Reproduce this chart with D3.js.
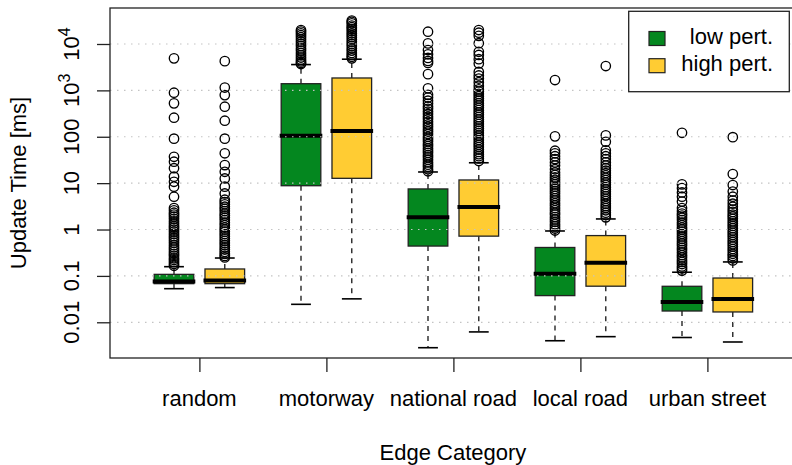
<!DOCTYPE html>
<html>
<head>
<meta charset="utf-8">
<script src="https://cdn.jsdelivr.net/npm/d3@7"></script>
<style>
  body { margin: 0; background: #fff; }
  text { font-family: "Liberation Sans", Arial, Helvetica, sans-serif; fill: #000; }
</style>
</head>
<body>
<script>
// categories and series
const categories = ['random', 'motorway', 'national road', 'local road', 'urban street'];
const seriesNames = ['low pert.', 'high pert.'];

// box stats per category: [lower whisker, q1, median, q3, upper whisker] (ms)
const lowStats = [
  [0.053, 0.068, 0.076, 0.108, 0.158],
  [0.0244, 8.8, 105, 1393, 3600],
  [0.00283, 0.44, 1.83, 7.5, 17.4],
  [0.0040, 0.0376, 0.111, 0.41, 0.93],
  [0.0047, 0.0175, 0.0274, 0.0597, 0.12]
];
const highStats = [
  [0.056, 0.068, 0.080, 0.141, 0.243],
  [0.032, 12.7, 133, 1850, 4700],
  [0.0062, 0.72, 3.06, 11.7, 27.5],
  [0.0049, 0.060, 0.193, 0.74, 1.69],
  [0.00376, 0.0167, 0.0318, 0.090, 0.20]
];

// outliers (ms)
const lowOutliers = [
  [4900, 890, 525, 257, 91, 37, 29, 21, 13.8, 10.7, 8.4, 5.1, 2.9, 2.6, 2.3, 2.1, 1.9, 1.7, 1.5, 1.35, 1.2, 1.1, 1.0,
    0.9, 0.8, 0.72, 0.65, 0.58, 0.52, 0.46, 0.41, 0.37, 0.33, 0.3, 0.27, 0.24, 0.22, 0.2, 0.18, 0.165],
  [20000, 18500, 17000, 15500, 14000, 12500, 11200, 10000, 9000, 8000, 7200, 6400, 5700, 5100, 4600, 4200, 3900, 3700],
  [18400, 10300, 7400, 6000, 5000, 4300, 3900, 2240, 1110, 800, 700, 600, 520, 450, 400, 350, 310, 270, 240, 210,
    185, 165, 145, 130, 115, 100, 90, 80, 70, 63, 56, 50, 45, 40, 36, 32, 28, 25, 22.5, 20, 18],
  [1670, 102, 50, 44, 38, 33, 28, 24, 20, 17, 15, 13.3, 11.8, 10.5, 9.4, 8.4, 7.5, 6.7, 6, 5.3, 4.7, 4.2, 3.7, 3.3,
    2.9, 2.6, 2.3, 2.1, 1.85, 1.65, 1.47, 1.3, 1.17, 1.05, 0.95],
  [122, 9.4, 7.8, 6.3, 5.1, 4.0, 2.9, 2.5, 2.2, 2.0, 1.8, 1.6, 1.4, 1.25, 1.1, 1.0, 0.9, 0.8, 0.71, 0.63, 0.56, 0.5,
    0.45, 0.4, 0.36, 0.32, 0.28, 0.25, 0.22, 0.2, 0.18, 0.16, 0.145, 0.13]
];
const highOutliers = [
  [4270, 1150, 790, 445, 222, 91, 44, 24.5, 17.6, 12.6, 8.4, 6.0, 4.4, 3.9, 3.5, 3.1, 2.8, 2.5, 2.2, 2.0, 1.8, 1.6,
    1.4, 1.25, 1.1, 1.0, 0.9, 0.8, 0.72, 0.64, 0.57, 0.51, 0.46, 0.41, 0.37, 0.33, 0.3, 0.27, 0.25],
  [32000, 30000, 28000, 25000, 23000, 21000, 19000, 17000, 15500, 14000, 12500, 11200, 10000, 9000, 8000, 7200,
    6400, 5800, 5300, 4900],
  [20000, 17500, 15000, 10400, 6800, 5800, 4700, 3800, 2500, 2100, 1800, 1500, 1250, 1050, 940, 840, 750, 670, 600,
    530, 470, 420, 375, 335, 300, 265, 235, 210, 188, 168, 150, 134, 120, 106, 95, 85, 75, 67, 60, 53, 47, 42, 38,
    34, 30],
  [3350, 107, 78, 51, 44, 38, 33, 28, 24, 21, 18.5, 16.5, 14.7, 13, 11.6, 10.3, 9.2, 8.2, 7.3, 6.5, 5.8, 5.2, 4.6,
    4.1, 3.6, 3.2, 2.9, 2.6, 2.3, 2.05, 1.83],
  [98, 15.7, 9.1, 6.6, 5.1, 4.2, 3.6, 3.1, 2.7, 2.4, 2.1, 1.9, 1.7, 1.5, 1.35, 1.2, 1.07, 0.95, 0.85, 0.76, 0.68,
    0.6, 0.54, 0.48, 0.43, 0.38, 0.34, 0.3, 0.27, 0.24, 0.215]
];

const yTicks = [0.01, 0.1, 1, 10, 100, 1000, 10000];
const yTickLabels = [['0.01'], ['0.1'], ['1'], ['10'], ['100'], ['10', '3'], ['10', '4']];

const colors = ['#04871f', '#ffcc33'];

const width = 792;
const height = 465;
const plot = { left: 110, top: 8, right: 799, bottom: 358 };

const svg = d3.select('body').append('svg').attr('width', width).attr('height', height);

const y = d3.scaleLog()
  .domain([Math.pow(10, -2.77), Math.pow(10, 4.776)])
  .range([plot.bottom, plot.top]);

// box slots: 1,2 | 3.5,4.5 | 6,7 ...
const x = d3.scaleLinear().domain([1, 12]).range([174, 732.8]);
const boxW = x(1.78) - x(1);
const slot = (i, s) => i * 2.5 + 1 + s;

const boxes = [];
categories.forEach((c, i) => {
  [lowStats, highStats].forEach((st, s) => {
    boxes.push({
      cx: x(slot(i, s)), stats: st[i], out: (s === 0 ? lowOutliers : highOutliers)[i], color: colors[s]
    });
  });
});

const g = svg.append('g');

// whiskers, boxes, medians, outliers
boxes.forEach((b) => {
  const [lo, q1, med, q3, hi] = b.stats;
  g.append('line').attr('x1', b.cx).attr('x2', b.cx).attr('y1', y(q1)).attr('y2', y(lo))
    .attr('stroke', '#000').attr('stroke-width', 1.2).attr('stroke-dasharray', '5,5');
  g.append('line').attr('x1', b.cx).attr('x2', b.cx).attr('y1', y(q3)).attr('y2', y(hi))
    .attr('stroke', '#000').attr('stroke-width', 1.2).attr('stroke-dasharray', '5,5');
  [lo, hi].forEach((v) => {
    g.append('line').attr('x1', b.cx - boxW / 4).attr('x2', b.cx + boxW / 4)
      .attr('y1', y(v)).attr('y2', y(v)).attr('stroke', '#000').attr('stroke-width', 1.6);
  });
  g.append('rect')
    .attr('x', b.cx - boxW / 2).attr('y', y(q3))
    .attr('width', boxW).attr('height', y(q1) - y(q3))
    .attr('fill', b.color).attr('stroke', '#222').attr('stroke-width', 1.3);
  g.append('line').attr('x1', b.cx - boxW / 2 - 1.5).attr('x2', b.cx + boxW / 2 + 1.5)
    .attr('y1', y(med)).attr('y2', y(med)).attr('stroke', '#000').attr('stroke-width', 4);
  g.selectAll(null).data(b.out).enter().append('circle')
    .attr('cx', b.cx).attr('cy', (d) => y(d)).attr('r', 4.7)
    .attr('fill', 'none').attr('stroke', '#000').attr('stroke-width', 1.35);
});

// dotted grid on top
svg.append('g').selectAll('line').data(yTicks).enter().append('line')
  .attr('x1', plot.left).attr('x2', plot.right)
  .attr('y1', (d) => y(d)).attr('y2', (d) => y(d))
  .attr('stroke', '#c4c4c4').attr('stroke-width', 1.2).attr('stroke-dasharray', '1.5,5.5');

// frame
svg.append('rect')
  .attr('x', plot.left).attr('y', plot.top)
  .attr('width', plot.right - plot.left).attr('height', plot.bottom - plot.top)
  .attr('fill', 'none').attr('stroke', '#222').attr('stroke-width', 1.3);

// y axis
const yAxis = svg.append('g').attr('transform', `translate(${plot.left},0)`)
  .call(d3.axisLeft(y).tickValues(yTicks).tickSize(13).tickSizeOuter(0).tickFormat(''));
yAxis.select('.domain').remove();
yAxis.selectAll('.tick line').attr('stroke', '#222').attr('stroke-width', 1.3);

yTicks.forEach((v, i) => {
  const lab = yTickLabels[i];
  const t = svg.append('text')
    .attr('transform', `translate(78.5,${y(v)}) rotate(-90)`)
    .attr('text-anchor', 'middle').attr('font-size', 22);
  t.append('tspan').text(lab[0]);
  if (lab[1]) t.append('tspan').attr('dy', -8.5).attr('font-size', 16).text(lab[1]);
});

svg.append('text')
  .attr('transform', 'translate(26,183) rotate(-90)')
  .attr('text-anchor', 'middle').attr('font-size', 22)
  .text('Update Time [ms]');

// x axis
const catPos = categories.map((c, i) => x(i * 2.5 + 1.5));
const xAxis = svg.append('g').attr('transform', `translate(0,${plot.bottom})`)
  .call(d3.axisBottom(d3.scaleLinear().range([0, width]).domain([0, width]))
    .tickValues(catPos).tickSize(14).tickSizeOuter(0).tickFormat(''));
xAxis.select('.domain').remove();
xAxis.selectAll('.tick line').attr('stroke', '#222').attr('stroke-width', 1.3);

svg.append('g').selectAll('text').data(categories).enter().append('text')
  .attr('x', (d, i) => catPos[i]).attr('y', 406)
  .attr('text-anchor', 'middle').attr('font-size', 22)
  .text((d) => d);

svg.append('text')
  .attr('x', 453).attr('y', 460)
  .attr('text-anchor', 'middle').attr('font-size', 22)
  .text('Edge Category');

// legend
const leg = svg.append('g');
leg.append('rect').attr('x', 628.7).attr('y', 11.3).attr('width', 160.6).attr('height', 80.4)
  .attr('fill', '#fff').attr('stroke', '#222').attr('stroke-width', 1.3);
seriesNames.forEach((n, i) => {
  leg.append('rect').attr('x', 649).attr('y', 31.5 + i * 27.2).attr('width', 16).attr('height', 14)
    .attr('fill', colors[i]).attr('stroke', '#222').attr('stroke-width', 1.2);
  leg.append('text').attr('x', 773).attr('y', 44 + i * 27.2)
    .attr('text-anchor', 'end').attr('font-size', 22).text(n);
});
</script>
</body>
</html>
